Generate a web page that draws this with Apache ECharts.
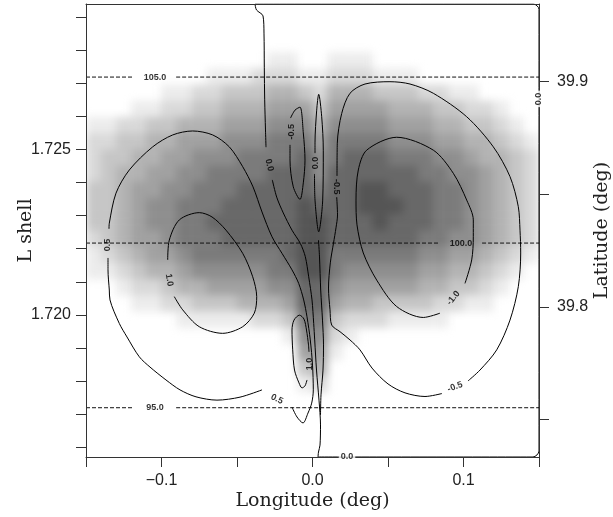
<!DOCTYPE html>
<html>
<head>
<meta charset="utf-8">
<script src="https://cdn.jsdelivr.net/npm/echarts@6/dist/echarts.min.js"></script>
<style>
  html, body { margin: 0; padding: 0; background: #fff; }
  #wrap { position: relative; width: 613px; height: 517px; }
  #shade { position: absolute; left: 86px; top: 4px; width: 453px; height: 453px; overflow: hidden; }
  #shade-inner { width: 453px; height: 453px; filter: blur(4px); }
  #chart { position: absolute; left: 0; top: 0; width: 613px; height: 517px; }
</style>
</head>
<body>
<div id="wrap">
  <div id="shade"><div id="shade-inner"></div></div>
  <div id="chart"></div>
</div>
<script>
// eixos
const lonTicks = [-0.15, -0.1, -0.05, 0, 0.05, 0.1, 0.15];
const lonLabels = [-0.1, 0, 0.1];
const lShellTicks = [1.716, 1.717, 1.718, 1.719, 1.720, 1.721, 1.722, 1.723, 1.724, 1.725, 1.726, 1.727, 1.728, 1.729];
const lShellLabels = [1.720, 1.725];
const latTicks = [39.75, 39.8, 39.85, 39.9];
const latLabels = [39.8, 39.9];

// campo em tons de cinza (0 = branco, 9 = mais escuro), 30 colunas x 28 linhas, de cima para baixo
const shadeRows = [
  "000000000000000000000000000000",
  "000000000000000000000000000000",
  "000000000000000000000000000000",
  "000000000000110011100000000000",
  "000000001112221122211100000000",
  "000001122333443244433322110000",
  "000112233444555355554443322100",
  "112233444555666466665554433210",
  "223344555666777577776665544321",
  "233445566677778678887776654432",
  "234455667777888688888877665432",
  "334556677788888788998887765432",
  "334566777888889888999887765432",
  "334566778888889988898887765432",
  "234556777888889988888877665432",
  "123455677777789977777766554321",
  "112344566666779976666655443210",
  "001223445555668865555544332100",
  "000112233344458854433332211000",
  "000000111112237732221111000000",
  "000000000000016621000000000000",
  "000000000000005510000000000000",
  "000000000000003400000000000000",
  "000000000000001200000000000000",
  "000000000000000000000000000000",
  "000000000000000000000000000000",
  "000000000000000000000000000000",
  "000000000000000000000000000000"
];

// linhas tracejadas (outra grandeza)
const isoValues = [105.0, 100.0, 95.0];
const isoL = [1.72719, 1.72217, 1.71719];
const isoLabelLon = [-0.1043, 0.0983, -0.1043];

// contornos [longitude, L shell]
const c00Upper = [[-0.03808,1.72940],[-0.03709,1.72922],[-0.03278,1.72904],[-0.03212,1.72852],[-0.03192,1.72749],[-0.03166,1.72650],[-0.03113,1.72559],[-0.03079,1.72507]];
const c00Lower = [[-0.02662,1.72408],[-0.02371,1.72356],[-0.01934,1.72308],[-0.01358,1.72256],[-0.00808,1.72216],[-0.00477,1.72176],[-0.00252,1.72115],[-0.00033,1.72045],[0.00079,1.71974],[0.00146,1.71924],[0.00265,1.71833],[0.00430,1.71742],[0.00530,1.71667],[0.00497,1.71606],[0.00397,1.71585],[0.00364,1.71570]];
const c00Side = [[0.00397,1.72226],[0.00464,1.72175],[0.00543,1.72075],[0.00662,1.71984],[0.00728,1.71909],[0.00695,1.71833],[0.00563,1.71758],[0.00530,1.71697]];
const c00Edge = [[0.00364,1.71570],[0.14603,1.71570],[0.15,1.71588],[0.15,1.72924],[0.14623,1.72940],[-0.03808,1.72940]];
const c00Small = [[0.00132,1.72426],[0.00166,1.72347],[0.00411,1.72251],[0.00675,1.72347],[0.00715,1.72498],[0.00609,1.72599],[0.00411,1.72667],[0.00278,1.72619],[0.00166,1.72520],[0.00166,1.72489]];
const c05Upper = [[-0.13477,1.72260],[-0.13457,1.72277],[-0.13013,1.72368],[-0.12132,1.72438],[-0.10583,1.72508],[-0.09258,1.72544],[-0.07934,1.72556],[-0.06609,1.72544],[-0.05510,1.72508],[-0.04623,1.72448],[-0.03940,1.72387],[-0.03344,1.72311],[-0.02682,1.72236],[-0.02020,1.72186],[-0.01358,1.72136],[-0.00914,1.72095],[-0.00583,1.72045],[-0.00364,1.71994],[-0.00146,1.71924],[0.0,1.71848],[0.00053,1.71773],[-0.00053,1.71733],[-0.00298,1.71703],[-0.00629,1.71673],[-0.01026,1.71691],[-0.01358,1.71721]];
const c05Lower = [[-0.03344,1.71773],[-0.04801,1.71751],[-0.06325,1.71742],[-0.07715,1.71752],[-0.08775,1.71773],[-0.09702,1.71803],[-0.10762,1.71842],[-0.11470,1.71873],[-0.12285,1.71933],[-0.12795,1.71974],[-0.13411,1.72045],[-0.13457,1.72075],[-0.13543,1.72136],[-0.13543,1.72172]];
const c10Left = [[-0.09152,1.72055],[-0.08596,1.72015],[-0.07497,1.71964],[-0.05947,1.71944],[-0.04623,1.71964],[-0.03854,1.72005],[-0.03695,1.72055],[-0.03960,1.72115],[-0.04623,1.72186],[-0.05728,1.72256],[-0.06656,1.72296],[-0.07497,1.72309],[-0.08821,1.72287],[-0.09483,1.72226],[-0.09589,1.72166]];
const c10Small = [[-0.00364,1.71803],[-0.00497,1.71785],[-0.00695,1.71779],[-0.00894,1.71794],[-0.01192,1.71833],[-0.01311,1.71894],[-0.01358,1.71954],[-0.01225,1.71984],[-0.00861,1.71999],[-0.00563,1.71987],[-0.00397,1.71954],[-0.00265,1.71909],[-0.00232,1.71888]];
const cm05Small = [[-0.01490,1.72514],[-0.01490,1.72468],[-0.01272,1.72387],[-0.00828,1.72349],[-0.00609,1.72399],[-0.00497,1.72468],[-0.00609,1.72550],[-0.00828,1.72628],[-0.01159,1.72619],[-0.01457,1.72595]];
const cm05RightA = [[0.01603,1.72356],[0.01656,1.72302],[0.01556,1.72263],[0.01391,1.72217],[0.01179,1.72157],[0.01060,1.72081],[0.01159,1.72015],[0.01272,1.71969],[0.01821,1.71949],[0.02483,1.71924],[0.03146,1.71894],[0.03940,1.71839],[0.05,1.71791],[0.06126,1.71764],[0.07450,1.71753],[0.08576,1.71762]];
const cm05RightB = [[0.10298,1.71800],[0.11093,1.71833],[0.12199,1.71894],[0.13079,1.71984],[0.13629,1.72085],[0.13788,1.72187],[0.13742,1.72256],[0.13629,1.72327],[0.13079,1.72418],[0.11974,1.72508],[0.10212,1.72599],[0.08,1.72670],[0.06457,1.72698],[0.05132,1.72705],[0.03477,1.72698],[0.02483,1.72670],[0.01934,1.72609],[0.01642,1.72519],[0.01623,1.72420]];
const cm10Right = [[0.10099,1.72095],[0.10543,1.72166],[0.10649,1.72236],[0.10649,1.72287],[0.10212,1.72347],[0.09325,1.72428],[0.08,1.72498],[0.05576,1.72537],[0.03589,1.72498],[0.03033,1.72438],[0.02881,1.72347],[0.02947,1.72272],[0.03364,1.72187],[0.04252,1.72105],[0.05576,1.72025],[0.07338,1.71992],[0.08444,1.72005]];

// rótulos dos contornos
const contourLabelText = ['0.5', '1.0', '0.0', '-0.5', '0.0', '-0.5', '-1.0', '-0.5', '0.5', '1.0', '0.0', '0.0'];
const contourLabelLon = [-0.13563, -0.09483, -0.02861, -0.01377, 0.00232, 0.01589, 0.09325, 0.09437, -0.02351, -0.00199, 0.02285, 0.15];
const contourLabelL = [1.72211, 1.72105, 1.72453, 1.72554, 1.72459, 1.72387, 1.72051, 1.71782, 1.71745, 1.71851, 1.71570, 1.72653];

document.addEventListener("DOMContentLoaded", function () {
  // camada de fundo: campo em cinza (suavizado via CSS)
  const fundo = echarts.init(document.getElementById('shade-inner'));
  const heatData = [];
  shadeRows.forEach((row, r) => {
    for (let c = 0; c < row.length; c++) {
      const v = +row[c];
      if (v > 0) heatData.push([c, r, v]);
    }
  });
  fundo.setOption({
    animation: false,
    grid: { left: 0, top: 0, right: 0, bottom: 0, containLabel: false, outerBoundsMode: 'none' },
    xAxis: { type: 'category', data: shadeRows[0].split('').map((_, i) => i), show: false },
    yAxis: { type: 'category', data: shadeRows.map((_, i) => i), inverse: true, show: false },
    visualMap: {
      show: false, type: 'continuous', min: 0, max: 9, dimension: 2,
      inRange: { color: ['#ffffff', '#555555'] }
    },
    series: [{ type: 'heatmap', data: heatData, silent: true, emphasis: { disabled: true } }]
  });

  // camada da frente: eixos, contornos e rótulos
  const grafico = echarts.init(document.getElementById('chart'));

  const near = (v, list) => list.some(t => Math.abs(t - v) < 1e-9);
  const fmtLon = v => {
    if (Math.abs(v) < 1e-9) return '0.0';
    return v < 0 ? '\u2212' + (-v).toFixed(1) : v.toFixed(1);
  };

  const axisColor = '#333';
  const tickFont = { fontFamily: 'Liberation Sans', fontSize: 16, color: '#222' };
  const nameFont = { fontFamily: 'DejaVu Serif', fontSize: 19, color: '#222' };

  const contourLine = pts => ({
    type: 'line',
    data: pts,
    showSymbol: false,
    symbol: 'none',
    smooth: 0.3,
    silent: true,
    z: 5,
    lineStyle: { color: '#000', width: 1 }
  });

  const dashedSeries = [];
  const gapHalf = 0.014;
  isoL.forEach((L, i) => {
    [[[-0.15, L], [isoLabelLon[i] - gapHalf, L]], [[isoLabelLon[i] + gapHalf, L], [0.15, L]]].forEach(seg => {
      dashedSeries.push({
        type: 'line', data: seg,
        showSymbol: false, symbol: 'none', silent: true, z: 4,
        lineStyle: { color: '#111', width: 1, type: [4, 2] }
      });
    });
  });

  const labelRot = [90, -80, -78, 90, 90, -90, 50, 20, -25, 90, 0, 90];
  const labelData = contourLabelText.map((t, i) => {
    const item = { value: [contourLabelLon[i], contourLabelL[i]], label: { rotate: labelRot[i] } };
    if (i >= 10) {
      item.label.backgroundColor = '#fff';
      item.label.padding = [0, 2];
    }
    return item;
  });
  const isoLabelData = isoValues.map((v, i) => ({ value: [isoLabelLon[i], isoL[i]] }));

  const labelStyle = {
    show: true, position: 'inside', color: '#000',
    fontFamily: 'Liberation Sans', fontSize: 9, fontWeight: 'bold'
  };

  const opcoes = {
    animation: false,
    backgroundColor: 'transparent',
    grid: { left: 86, top: 4, width: 453, height: 453, containLabel: false, outerBoundsMode: 'none' },
    xAxis: [
      {
        type: 'value', min: -0.15, max: 0.15, position: 'bottom', z: 10,
        axisLine: { show: true, onZero: false, lineStyle: { color: axisColor, width: 1 } },
        axisTick: { show: true, inside: false, length: 10, customValues: lonTicks, lineStyle: { color: axisColor } },
        axisLabel: Object.assign({ customValues: lonLabels, margin: 16, formatter: v => near(v, lonLabels) ? fmtLon(v) : '' }, tickFont),
        splitLine: { show: false },
        name: 'Longitude (deg)', nameLocation: 'middle', nameGap: 35, nameMoveOverlap: false, nameTextStyle: nameFont
      },
      {
        type: 'value', min: -0.15, max: 0.15, position: 'top', z: 10,
        axisLine: { show: true, onZero: false, lineStyle: { color: axisColor, width: 1 } },
        axisTick: { show: false }, axisLabel: { show: false }, splitLine: { show: false }
      }
    ],
    yAxis: [
      {
        type: 'value', min: 1.7157, max: 1.7294, position: 'left', z: 10,
        axisLine: { show: true, onZero: false, lineStyle: { color: axisColor, width: 1 } },
        axisTick: { show: true, inside: false, length: 10, customValues: lShellTicks, lineStyle: { color: axisColor } },
        axisLabel: Object.assign({ customValues: lShellLabels, margin: 15, formatter: v => v.toFixed(3) }, tickFont),
        splitLine: { show: false },
        name: 'L shell', nameLocation: 'middle', nameGap: 50, nameRotate: 90, nameMoveOverlap: false, nameTextStyle: nameFont
      },
      {
        type: 'value', min: 39.7333, max: 39.9345, position: 'right', z: 10,
        axisLine: { show: true, onZero: false, lineStyle: { color: axisColor, width: 1 } },
        axisTick: { show: true, inside: false, length: 10, customValues: latTicks, lineStyle: { color: axisColor } },
        axisLabel: Object.assign({ customValues: latLabels, margin: 18, formatter: v => v.toFixed(1) }, tickFont),
        splitLine: { show: false },
        name: 'Latitude (deg)', nameLocation: 'middle', nameGap: 54, nameRotate: 90, nameMoveOverlap: false, nameTextStyle: nameFont
      }
    ],
    series: [
      contourLine(c00Upper),
      contourLine(c00Lower),
      contourLine(c00Side),
      contourLine(c00Edge),
      contourLine(c00Small),
      contourLine(c05Upper),
      contourLine(c05Lower),
      contourLine(c10Left),
      contourLine(c10Small),
      contourLine(cm05Small),
      contourLine(cm05RightA),
      contourLine(cm05RightB),
      contourLine(cm10Right),
      ...dashedSeries,
      {
        type: 'scatter', data: labelData,
        symbolSize: 1, itemStyle: { color: 'rgba(0,0,0,0)' }, silent: true, z: 20,
        label: Object.assign({ formatter: p => contourLabelText[p.dataIndex] }, labelStyle)
      },
      {
        type: 'scatter', data: isoLabelData,
        symbolSize: 1, itemStyle: { color: 'rgba(0,0,0,0)' }, silent: true, z: 20,
        label: Object.assign({ formatter: p => isoValues[p.dataIndex].toFixed(1) }, labelStyle)
      }
    ]
  };

  grafico.setOption(opcoes);
  window.addEventListener('resize', () => { fundo.resize(); grafico.resize(); });
});
</script>
</body>
</html>
